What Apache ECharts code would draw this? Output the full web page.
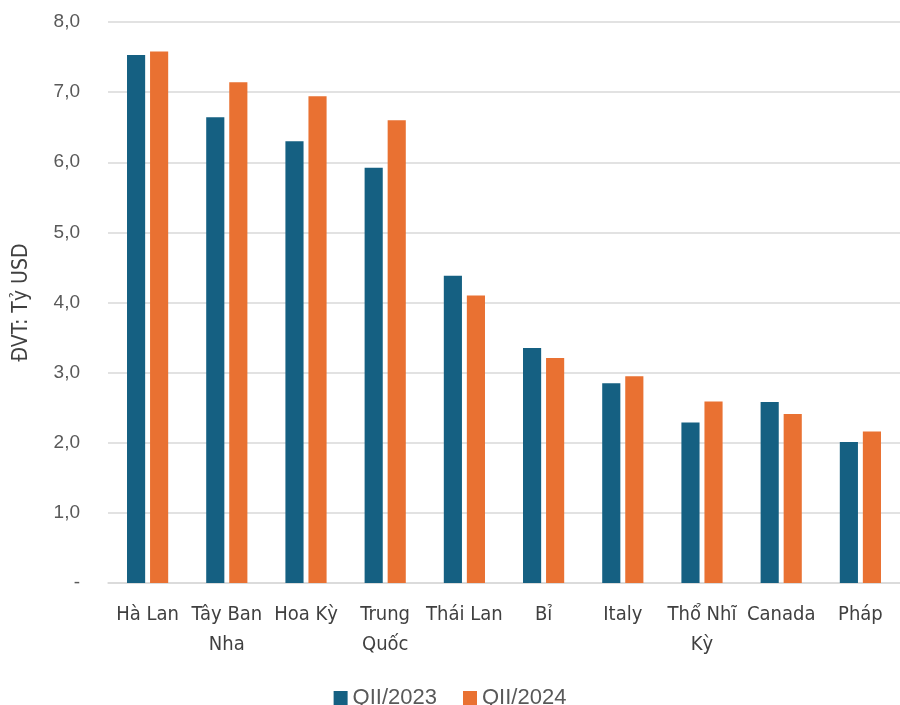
<!DOCTYPE html>
<html>
<head>
<meta charset="utf-8">
<script src="https://cdn.jsdelivr.net/npm/echarts@6/dist/echarts.min.js"></script>
<style>
html,body{margin:0;padding:0;background:#fff;}
#chart{width:900px;height:705px;}
</style>
</head>
<body>
<div id="chart"></div>
<script>
const categories = ["Hà Lan", "Tây Ban\nNha", "Hoa Kỳ", "Trung\nQuốc", "Thái Lan", "Bỉ", "Italy", "Thổ Nhĩ\nKỳ", "Canada", "Pháp"];
const seriesNames = ["QII/2023", "QII/2024"];
const q2_2023 = [7.53, 6.64, 6.30, 5.92, 4.38, 3.35, 2.85, 2.29, 2.58, 2.01];
const q2_2024 = [7.58, 7.14, 6.94, 6.60, 4.10, 3.21, 2.95, 2.59, 2.41, 2.16];
const colors = ["#156082", "#E97132"];
const narrow = '"DejaVu Sans Condensed", Roboto, sans-serif';

const chart = echarts.init(document.getElementById('chart'));
chart.setOption({
  animation: false,
  color: colors,
  grid: { left: 108, top: 22, width: 796, bottom: 122 },
  legend: {
    top: 682,
    left: 'center',
    itemWidth: 14, itemHeight: 14, itemGap: 26,
    icon: 'rect',
    textStyle: { fontFamily: 'Liberation Sans', fontSize: 22, color: '#595959' },
    data: seriesNames
  },
  xAxis: {
    type: 'category',
    data: categories,
    axisLine: { show: true, lineStyle: { color: '#d9d9d9', width: 1.5 } },
    axisTick: { show: false },
    axisLabel: {
      interval: 0,
      margin: 17,
      fontFamily: narrow,
      fontSize: 20,
      lineHeight: 30,
      color: '#404040'
    }
  },
  yAxis: {
    type: 'value',
    min: 0, max: 8, interval: 1,
    name: 'ĐVT: Tỷ USD',
    nameLocation: 'middle',
    nameGap: 76,
    nameRotate: 90,
    nameTextStyle: { fontFamily: narrow, fontSize: 21, color: '#404040' },
    axisLine: { show: false },
    axisTick: { show: false },
    splitLine: { lineStyle: { color: '#d9d9d9', width: 1.5 } },
    axisLabel: {
      margin: 28,
      fontFamily: 'Liberation Sans',
      fontSize: 19,
      color: '#595959',
      formatter: function (v) { return v === 0 ? '-' : v.toFixed(1).replace('.', ','); }
    }
  },
  series: [
    { name: seriesNames[0], type: 'bar', data: q2_2023, barGap: '27%', barCategoryGap: '48%' },
    { name: seriesNames[1], type: 'bar', data: q2_2024, barGap: '27%', barCategoryGap: '48%' }
  ]
});
</script>
</body>
</html>
